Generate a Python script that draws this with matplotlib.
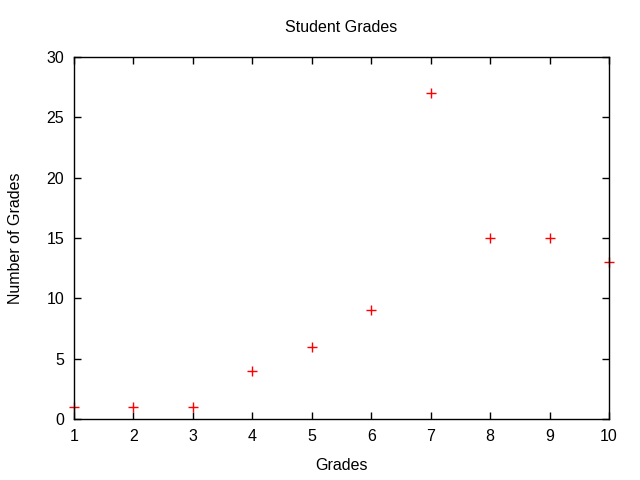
import matplotlib
matplotlib.use('Agg')
import matplotlib.pyplot as plt

plt.rcParams['font.family'] = ['Liberation Sans', 'DejaVu Sans']

grades = [1, 2, 3, 4, 5, 6, 7, 8, 9, 10]
counts = [1, 1, 1, 4, 6, 9, 27, 15, 15, 13]

fig = plt.figure(figsize=(6.4, 4.8), dpi=100)
ax = fig.add_axes([74 / 640, 61 / 480, 535 / 640, 362 / 480])

ax.plot(grades, counts, linestyle='none', marker='+', color='red',
        markersize=6.5, markeredgewidth=1, clip_on=False)

ax.set_xlim(1, 10)
ax.set_ylim(0, 30)
ax.set_xticks(range(1, 11))
ax.set_yticks(range(0, 31, 5))
ax.tick_params(direction='in', length=5, width=1, top=True, right=True,
               labelsize=11.5, colors='black', pad=7)
for s in ax.spines.values():
    s.set_linewidth(1)

ax.set_title('Student Grades', fontsize=11.5, pad=18)
ax.set_xlabel('Grades', fontsize=11.5, labelpad=10)
ax.set_ylabel('Number of Grades', fontsize=11.5, labelpad=17)

fig.savefig('out.png', dpi=100)
